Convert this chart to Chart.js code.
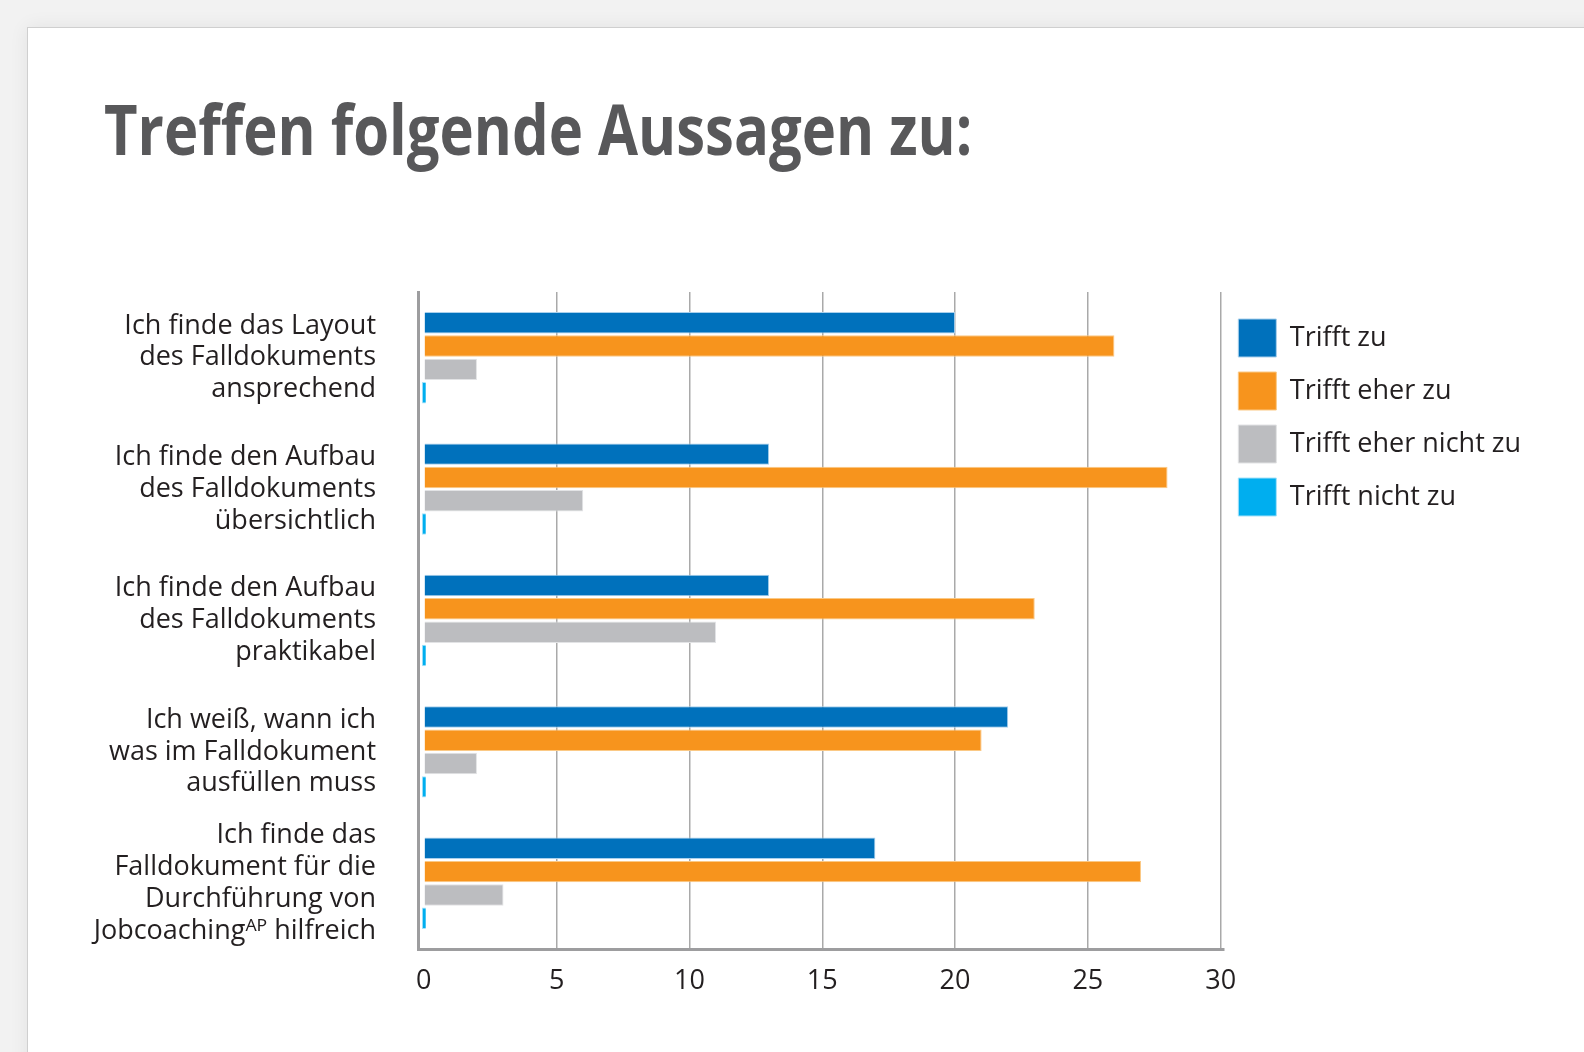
<!DOCTYPE html>
<html lang="de">
<head>
<meta charset="utf-8">
<title>Treffen folgende Aussagen zu</title>
<script src="https://cdn.jsdelivr.net/npm/chart.js@4.4.1/dist/chart.umd.min.js"></script>
<style>
    html, body {
        margin: 0;
        padding: 0;
        width: 1584px;
        height: 1052px;
        overflow: hidden;
        background: #f2f2f2;
        font-family: "Open Sans", "Noto Sans", sans-serif;
    }
    .card {
        position: absolute;
        left: 27px;
        top: 27px;
        width: 1600px;
        height: 1100px;
        background: #ffffff;
        border-top: 1px solid #cfcfcf;
        border-left: 1px solid #cfcfcf;
        box-shadow: 0 0 18px rgba(0, 0, 0, 0.07);
    }
    h1 {
        position: absolute;
        left: 104px;
        top: 93px;
        margin: 0;
        font-size: 70px;
        line-height: 70px;
        font-weight: 700;
        color: #58585a;
        white-space: nowrap;
        transform-origin: left top;
    }
    #chartBox {
        position: absolute;
        left: 40px;
        top: 270px;
        width: 1491px;
        height: 760px;
    }
</style>
</head>
<body>
<div class="card"></div>
<h1 id="title">Treffen folgende Aussagen zu:</h1>
<div id="chartBox"><canvas id="aussagenChart"></canvas></div>

<script>
// Aussagen (mehrzeilige Beschriftungen)
const categories = [
    ['Ich finde das Layout', 'des Falldokuments', 'ansprechend'],
    ['Ich finde den Aufbau', 'des Falldokuments', 'übersichtlich'],
    ['Ich finde den Aufbau', 'des Falldokuments', 'praktikabel'],
    ['Ich weiß, wann ich', 'was im Falldokument', 'ausfüllen muss'],
    ['Ich finde das', 'Falldokument für die', 'Durchführung von', 'Jobcoachingᴬᴾ hilfreich']
];

const trifftZu = [20, 13, 13, 22, 17];
const trifftEherZu = [26, 28, 23, 21, 27];
const trifftEherNichtZu = [2, 6, 11, 2, 3];
const trifftNichtZu = [0, 0, 0, 0, 0];

const xTicks = [0, 5, 10, 15, 20, 25, 30];

const textColor = '#231f20';
const font = { family: '"Open Sans", "Noto Sans", sans-serif', size: 27, lineHeight: 1.18 };

// Titel auf die Breite des Originals bringen
const title = document.getElementById('title');
title.style.transform = 'scaleX(' + (868 / title.offsetWidth) + ')';

const ctx = document.getElementById('aussagenChart').getContext('2d');
new Chart(ctx, {
    type: 'bar',
    data: {
        labels: categories,
        datasets: [
            { label: 'Trifft zu', data: trifftZu, backgroundColor: '#0071bc', borderColor: '#a9d0ec', borderWidth: 1 },
            { label: 'Trifft eher zu', data: trifftEherZu, backgroundColor: '#f7941d', borderColor: '#fbc985', borderWidth: 1 },
            { label: 'Trifft eher nicht zu', data: trifftEherNichtZu, backgroundColor: '#bcbdc0', borderColor: '#e2e3e5', borderWidth: 1 },
            { label: 'Trifft nicht zu', data: trifftNichtZu, backgroundColor: '#00aeef', borderColor: '#a6e2f9', borderWidth: 1, minBarLength: 4 }
        ]
    },
    options: {
        indexAxis: 'y',
        responsive: true,
        maintainAspectRatio: false,
        animation: false,
        categoryPercentage: 0.71,
        barPercentage: 0.92,
        layout: { padding: { top: 22, right: 0, bottom: 0, left: 0 } },
        scales: {
            x: {
                min: -0.22,
                max: 30.1,
                afterBuildTicks: scale => {
                    scale.ticks = xTicks.map(v => ({ value: v }));
                },
                afterFit: scale => { scale.height = 81; },
                grid: {
                    drawTicks: false,
                    lineWidth: 1.5,
                    color: c => (c.tick && c.tick.value === 0) ? 'rgba(0,0,0,0)' : '#a9a9a9'
                },
                border: { color: '#9d9d9f', width: 3 },
                ticks: { color: textColor, font: font, padding: 16 }
            },
            y: {
                afterFit: scale => {
                    scale.width = 378;
                    // mehrzeilige Labels sollen den Plotbereich nicht verkleinern
                    scale.paddingTop = 0;
                    scale.paddingBottom = 0;
                },
                grid: { display: false, drawTicks: false },
                border: { color: '#9d9d9f', width: 3 },
                ticks: { color: textColor, font: font, padding: 42 }
            }
        },
        plugins: {
            legend: {
                position: 'right',
                align: 'start',
                title: { display: true, text: '', font: { size: 1, lineHeight: 1 }, padding: { top: 11, bottom: 0 } },
                labels: {
                    color: textColor,
                    font: font,
                    boxWidth: 38,
                    boxHeight: 38,
                    padding: 15
                }
            },
            tooltip: { enabled: false }
        }
    }
});
</script>
</body>
</html>
